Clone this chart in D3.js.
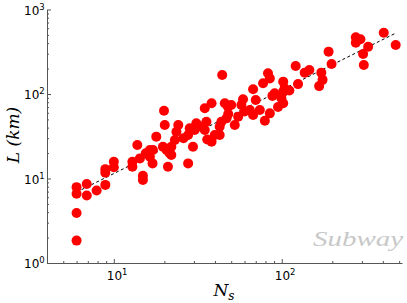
<!DOCTYPE html>
<html>
<head>
<meta charset="utf-8">
<script src="https://cdn.jsdelivr.net/npm/d3@7"></script>
<style>
  html, body { margin: 0; padding: 0; background: #fff; }
  svg { display: block; }
</style>
</head>
<body>
<script>
// Nombre de stations (Ns) et longueur du réseau L (km)
const ns = [6, 6, 6, 6, 6.9, 6.9, 7.9, 8.9, 8.9, 8.9, 10, 10, 12.9, 12.9, 13.8, 14.9, 14.9, 14.3, 15.5, 16.4,
  17, 16.4, 20.6, 21, 22, 22, 27.7, 44.2, 121, 125, 82.8, 84.9, 77.4, 67.5, 102, 104, 90.8, 99.5, 102, 58.8,
  57.5, 50, 47.8, 45.8, 38.2, 34.8, 64.6, 74, 84.9, 79.3, 67.5, 55, 52.5, 46.9, 43.7, 42.7, 42.7, 38.2, 39.9, 35.6,
  34.8, 33.3, 28.3, 27.7, 29.6, 24.2, 23.6, 23.1, 21.5, 19.6, 20.1, 19.9, 17.9, 17.1, 405, 477, 276, 294, 276, 327,
  305, 308, 190, 198, 146, 137, 172, 175, 167, 102, 30.3, 26, 31, 36, 48, 60, 70, 88, 95, 111];
const lens = [7.9, 6.6, 3.9, 1.84, 8.6, 6.3, 7.2, 11.7, 12.9, 8.4, 15.8, 13.6, 15.8, 13.8, 24.9, 10.8, 9.6, 17.3, 19.9, 21.7,
  15.1, 18.1, 21.7, 13.8, 19, 23.8, 15.1, 168, 214, 131, 176, 153, 134, 114, 140, 117, 102, 89, 77.6, 86.5,
  74, 74, 70.8, 77.6, 77.6, 67.7, 64.7, 64.7, 59, 48.3, 56.4, 53.8, 43, 51.5, 47, 41, 32.7, 27.3, 32.7, 47,
  37.5, 41, 39.3, 32.7, 23.8, 43, 35.8, 28.6, 19.9, 23.8, 43, 63.4, 31.3, 21.7, 531, 380, 469, 444, 405, 363,
  297, 220, 317, 226, 192, 179, 179, 147, 124, 106, 37.5, 30, 45, 29, 58, 62, 85, 95, 70, 110];

// droite d'ajustement (pointillés)
const fitNs = [6, 475];
const fitL = [6.9, 523];

const xTicks = [10, 100];
const yTicks = [1, 10, 100, 1000];
const label = "Subway";

const width = 407, height = 303;
const svg = d3.select("body").append("svg")
  .attr("width", width).attr("height", height)
  .style("font-family", "'DejaVu Sans', sans-serif");

const x = d3.scaleLog().domain([4, 520]).range([47, 402]);
const y = d3.scaleLog().domain([1, 1000]).range([263, 9.5]);

const axisColor = "#555";

// Ticks mineurs
const xMinor = x.ticks().filter(v => !xTicks.includes(v));
const yMinor = y.ticks().filter(v => !yTicks.includes(v));

svg.append("g").attr("transform", `translate(0,${y(1)})`)
  .call(d3.axisBottom(x).tickValues(xMinor).tickSize(-2).tickSizeOuter(0).tickFormat(""))
  .call(g => g.selectAll("line").attr("stroke", axisColor))
  .call(g => g.select(".domain").remove());
svg.append("g").attr("transform", `translate(${x(4)},0)`)
  .call(d3.axisLeft(y).tickValues(yMinor).tickSize(-2).tickSizeOuter(0).tickFormat(""))
  .call(g => g.selectAll("line").attr("stroke", axisColor))
  .call(g => g.select(".domain").remove());

// Axes principaux
const xAxis = svg.append("g").attr("transform", `translate(0,${y(1)})`)
  .call(d3.axisBottom(x).tickValues(xTicks).tickSize(-4).tickSizeOuter(0).tickFormat(""));
const yAxis = svg.append("g").attr("transform", `translate(${x(4)},0)`)
  .call(d3.axisLeft(y).tickValues(yTicks).tickSize(-4).tickSizeOuter(0).tickFormat(""));
[xAxis, yAxis].forEach(a => {
  a.select(".domain").attr("stroke", axisColor).attr("stroke-width", 1);
  a.selectAll("line").attr("stroke", axisColor);
});

// étiquettes 10^n
function powLabel(sel, v) {
  const t = sel.append("text").attr("fill", "#000").attr("font-size", 12);
  t.append("tspan").text("10");
  t.append("tspan").attr("dy", -5).attr("font-size", 8.5).text(Math.round(Math.log10(v)));
  return t;
}
xTicks.forEach(v => {
  powLabel(svg, v).attr("x", x(v) - 7).attr("y", 280);
});
yTicks.forEach(v => {
  powLabel(svg, v).attr("x", 24).attr("y", y(v) + 5);
});

// droite d'ajustement
svg.append("path")
  .datum(fitNs.map((n, i) => [n, fitL[i]]))
  .attr("d", d3.line().x(d => x(d[0])).y(d => y(d[1])))
  .attr("fill", "none").attr("stroke", "#000")
  .attr("stroke-width", 1).attr("stroke-dasharray", "3,2.5");

// points
svg.append("g").selectAll("circle")
  .data(ns.map((n, i) => ({ n, l: lens[i] })))
  .join("circle")
  .attr("cx", d => x(d.n))
  .attr("cy", d => y(d.l))
  .attr("r", 5)
  .attr("fill", "#ff0000");

// libellés des axes
svg.append("text")
  .attr("transform", "translate(19,135) rotate(-90)")
  .attr("text-anchor", "middle")
  .attr("font-family", "'DejaVu Serif', serif")
  .attr("font-style", "italic")
  .attr("font-size", 17)
  .text("L (km)");

const xl = svg.append("text")
  .attr("x", 224).attr("y", 296)
  .attr("text-anchor", "middle")
  .attr("font-family", "'DejaVu Serif', serif")
  .attr("font-style", "italic")
  .attr("font-size", 17);
xl.append("tspan").text("N");
xl.append("tspan").attr("dy", 4).attr("font-size", 12).text("s");

svg.append("text")
  .attr("x", 403).attr("y", 246)
  .attr("text-anchor", "end")
  .attr("font-family", "'Liberation Serif', serif")
  .attr("font-style", "italic")
  .attr("font-size", 21)
  .attr("fill", "#c8c8c8")
  .attr("textLength", 90)
  .attr("lengthAdjust", "spacingAndGlyphs")
  .text(label);
</script>
</body>
</html>
